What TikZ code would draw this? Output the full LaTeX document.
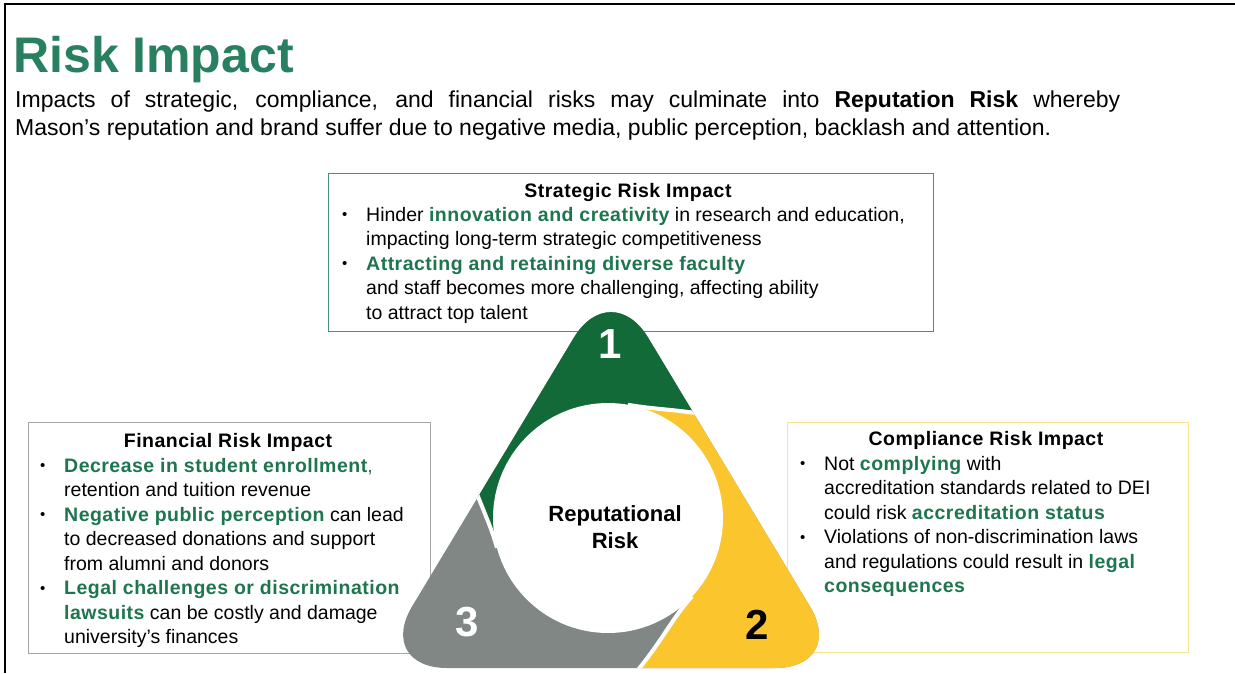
\documentclass[tikz,border=0pt]{standalone}
\usepackage{fontspec}
\setmainfont{Liberation Sans}
\definecolor{titlegreen}{RGB}{40,128,96}
\definecolor{hlgreen}{RGB}{30,118,78}
\definecolor{rgreen}{RGB}{18,106,56}
\definecolor{ryellow}{RGB}{251,197,45}
\definecolor{rgray}{RGB}{128,135,133}
\definecolor{stratline}{RGB}{70,145,120}
\definecolor{finline}{RGB}{165,165,165}
\definecolor{compline}{RGB}{247,228,140}
\newcommand{\hl}[1]{{\bfseries\addfontfeature{LetterSpace=2.5}\color{hlgreen}#1}}
\newcommand{\bul}{\raisebox{0.1ex}{\fontsize{15}{15}\selectfont •}}
\newcommand{\bi}{\makebox[24pt][l]{\bul}}
\newcommand{\ci}{\hspace*{24pt}}
\begin{document}
\begin{tikzpicture}[x=1pt,y=-1pt,
  boxbody/.style={anchor=base west, inner sep=0pt, font=\fontsize{19.5}{24.5}\selectfont},
  boxhead/.style={anchor=base, inner sep=0pt, font=\fontsize{19.5}{24.5}\selectfont\bfseries\addfontfeature{LetterSpace=2.5}},
  frame/.style={inner sep=0pt, line width=1.3pt, anchor=north west},
  num/.style={inner sep=0pt, font=\fontsize{42}{42}\selectfont\bfseries}]
\useasboundingbox (0,0) rectangle (1235,673);
\fill[white] (0,0) rectangle (1235,673);
\draw[line width=2.5pt] (5,673) -- (5,4) -- (1235,4);

% title and header
\node[anchor=base west, inner sep=0pt, font=\fontsize{50}{55}\selectfont\bfseries, text=titlegreen] (title) at (13,72) {Risk Impact};
\node[anchor=base west, inner sep=0pt, font=\fontsize{23}{28}\selectfont] (intro) at (15,107)
 {\begin{tabular}[t]{@{}l@{}}\makebox[1105pt][s]{Impacts of strategic, compliance, and financial risks may culminate into \textbf{Reputation Risk} whereby}\\
 Mason’s reputation and brand suffer due to negative media, public perception, backlash and attention.\end{tabular}};

% boxes
\node[frame, draw=stratline, minimum width=605pt, minimum height=158pt] (sbox) at (328,173) {};
\node[frame, draw=finline, minimum width=402pt, minimum height=231pt] (fbox) at (28,422) {};
\node[frame, draw=compline, minimum width=401pt, minimum height=230pt] (cbox) at (787,422) {};

\node[boxhead] (shead) at (628,197) {Strategic Risk Impact};
\node[boxbody] (sbody) at (342,221) {\begin{tabular}[t]{@{}l@{}}
\bi Hinder \hl{innovation and creativity} in research and education,\\
\ci impacting long-term strategic competitiveness\\
\bi\hl{Attracting and retaining diverse faculty}\\
\ci and staff becomes more challenging, affecting ability\\
\ci to attract top talent\end{tabular}};

\node[boxhead] (fhead) at (228,447) {Financial Risk Impact};
\node[boxbody] (fbody) at (40,472) {\begin{tabular}[t]{@{}l@{}}
\bi\hl{Decrease in student enrollment}{\color{hlgreen},}\\
\ci retention and tuition revenue\\
\bi\hl{Negative public perception} can lead\\
\ci to decreased donations and support\\
\ci from alumni and donors\\
\bi\hl{Legal challenges or discrimination}\\
\ci\hl{lawsuits} can be costly and damage\\
\ci university's finances\end{tabular}};

\node[boxhead] (chead) at (986,445) {Compliance Risk Impact};
\node[boxbody] (cbody) at (800,470) {\begin{tabular}[t]{@{}l@{}}
\bi Not \hl{complying} with\\
\ci accreditation standards related to DEI\\
\ci could risk \hl{accreditation status}\\
\bi Violations of non-discrimination laws\\
\ci and regulations could result in \hl{legal}\\
\ci\hl{consequences}\end{tabular}};

% cycle triangle
\begin{scope}
\clip[rounded corners=72pt] (611,276) -- (847,668) -- (375,668) -- cycle;
\fill[rgray] (300,250) rectangle (900,700);
\begin{scope}[shift={(608,518)}]
\fill[rgreen] (0,0) -- (165:115)
  -- plot[domain=0:1.6,samples=40] ({165+26*\x}:{115+19*\x*\x})
  -- (206.6:420) -- (240:420) -- (270:420) -- (300:420) -- (331.2:420)
  -- plot[domain=1.6:0,samples=40] ({-80+32*\x}:{115+25*\x*\x}) -- cycle;
\fill[ryellow] (0,0) -- (-80:115)
  -- plot[domain=0:1.6,samples=40] ({-80+32*\x}:{115+25*\x*\x})
  -- (-28.8:420) -- (0:420) -- (40:420) -- (80:420) -- (99:420)
  -- plot[domain=1.6:0,samples=40] ({43+35*\x}:{115+38*\x*\x}) -- cycle;
\draw[white, line width=4pt] plot[domain=0:1.6,samples=40] ({165+26*\x}:{115+19*\x*\x});
\draw[white, line width=4pt] plot[domain=0:1.6,samples=40] ({-80+32*\x}:{115+25*\x*\x});
\draw[white, line width=4pt] plot[domain=0:1.6,samples=40] ({43+35*\x}:{115+38*\x*\x});
\fill[white] (0,0) circle[radius=115pt];
\end{scope}
\end{scope}

\node[num, text=white] (n1) at (610,344) {1};
\node[num, text=black] (n2) at (757,625) {2};
\node[num, text=white] (n3) at (467,622) {3};
\node[inner sep=0pt, align=center, font=\fontsize{22}{27}\selectfont\bfseries] (center) at (615,527) {Reputational\\Risk};
\end{tikzpicture}
\end{document}
